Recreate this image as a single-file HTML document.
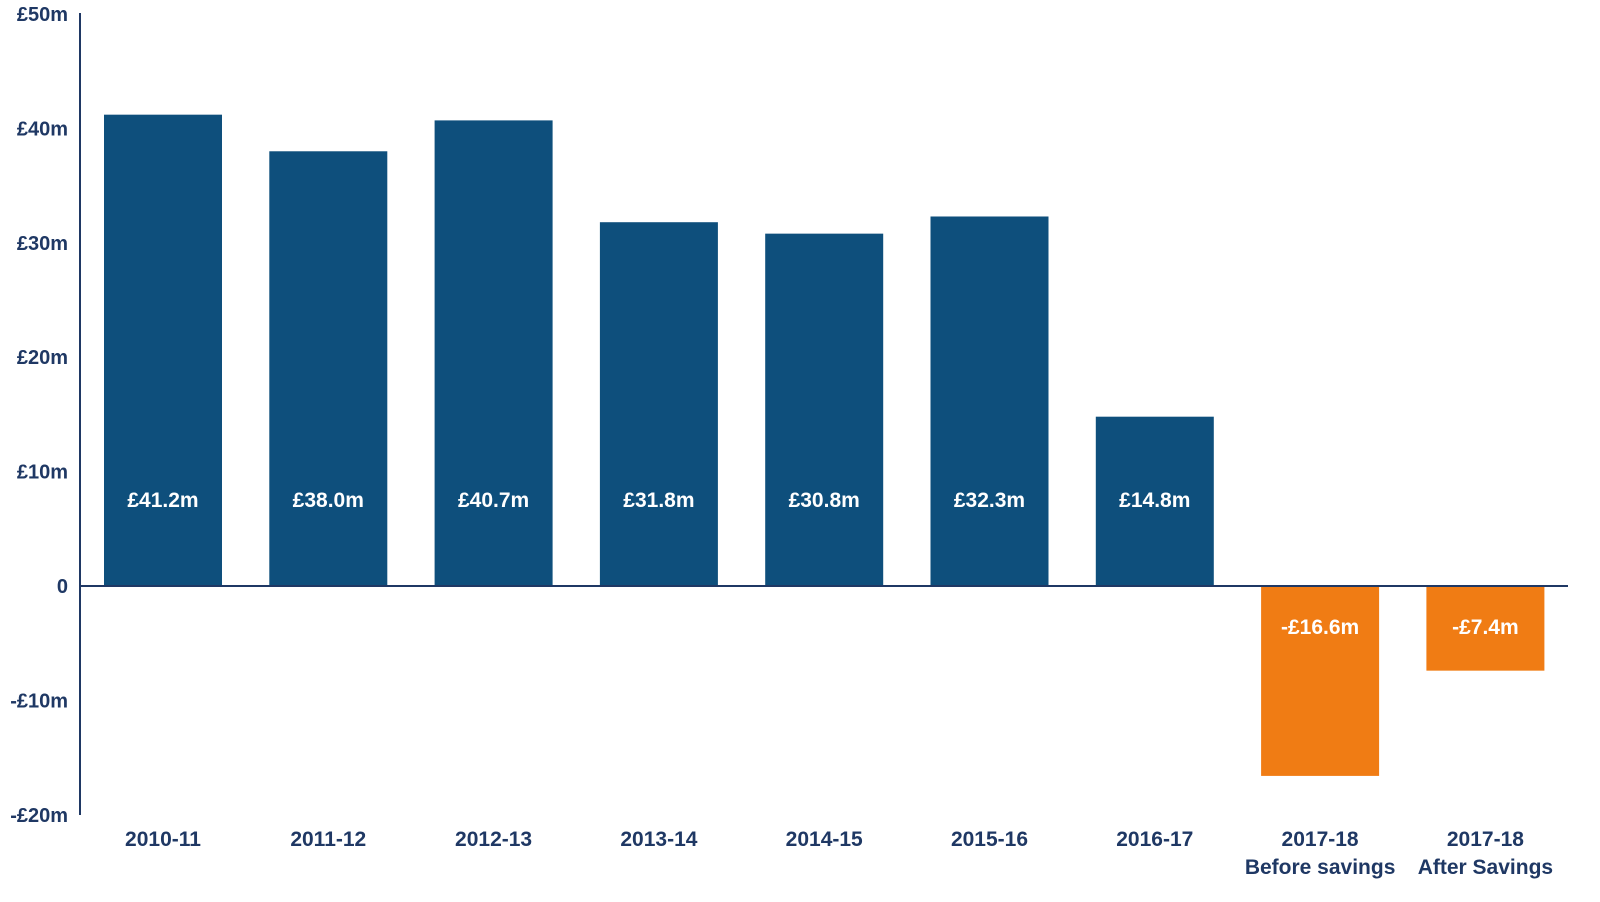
<!DOCTYPE html>
<html><head><meta charset="utf-8"><style>
html,body{margin:0;padding:0;background:#fff;}
svg{display:block;font-family:"Liberation Sans",Arial,sans-serif;font-weight:bold;}
</style></head><body>
<svg id="chart" width="1600" height="902" viewBox="0 0 1600 902" xmlns="http://www.w3.org/2000/svg"></svg>
<script>
const categories = ["2010-11","2011-12","2012-13","2013-14","2014-15","2015-16","2016-17","2017-18","2017-18"];
const subLabels = ["","","","","","","","Before savings","After Savings"];
const values = [41.2,38.0,40.7,31.8,30.8,32.3,14.8,-16.6,-7.4];
const valueLabels = ["£41.2m","£38.0m","£40.7m","£31.8m","£30.8m","£32.3m","£14.8m","-£16.6m","-£7.4m"];
const yTicks = [50,40,30,20,10,0,-10,-20];
const yTickLabels = ["£50m","£40m","£30m","£20m","£10m","0","-£10m","-£20m"];

const svg = document.getElementById('chart');
const NS = 'http://www.w3.org/2000/svg';
const y0px = 586, pxPerUnit = 11.44;
function y(v){ return y0px - v*pxPerUnit; }
const step = 165.3, firstCenter = 163, barW = 118;
function xc(i){ return firstCenter + i*step; }
function mk(tag, attrs){ const e=document.createElementNS(NS,tag); for(const k in attrs) e.setAttribute(k,attrs[k]); svg.appendChild(e); return e; }

yTicks.forEach((t,i)=>{
  const e = mk('text',{x:68,y:y(t)+7,'text-anchor':'end','font-size':20,fill:'#1f3864'});
  e.textContent = yTickLabels[i];
  
  
});

values.forEach((v,i)=>{
  const top = Math.min(y(v), y(0)), h = Math.abs(y(v)-y(0));
  const r = mk('rect',{x:xc(i)-barW/2,y:top,width:barW,height:h,fill: v>=0 ? '#0e4f7c' : '#f07c14'});
  
  
  const ly = v>=0 ? 507 : 634;
  const t = mk('text',{x:xc(i),y:ly,'text-anchor':'middle','font-size':21,fill:'#fff'});
  t.textContent = valueLabels[i];
  
  
  const c = mk('text',{x:xc(i),y:846,'text-anchor':'middle','font-size':21,fill:'#1f3864'});
  c.textContent = categories[i];
  
  
  if (subLabels[i]) {
    const s = mk('text',{x:xc(i),y:874,'text-anchor':'middle','font-size':21,fill:'#1f3864'});
    s.textContent = subLabels[i];
    
    
  }
});

const ax = mk('line',{x1:80,y1:13,x2:80,y2:815,stroke:'#1f3864','stroke-width':2});


const zl = mk('line',{x1:80,y1:y(0),x2:1568,y2:y(0),stroke:'#1f3864','stroke-width':2});


</script>
</body></html>
